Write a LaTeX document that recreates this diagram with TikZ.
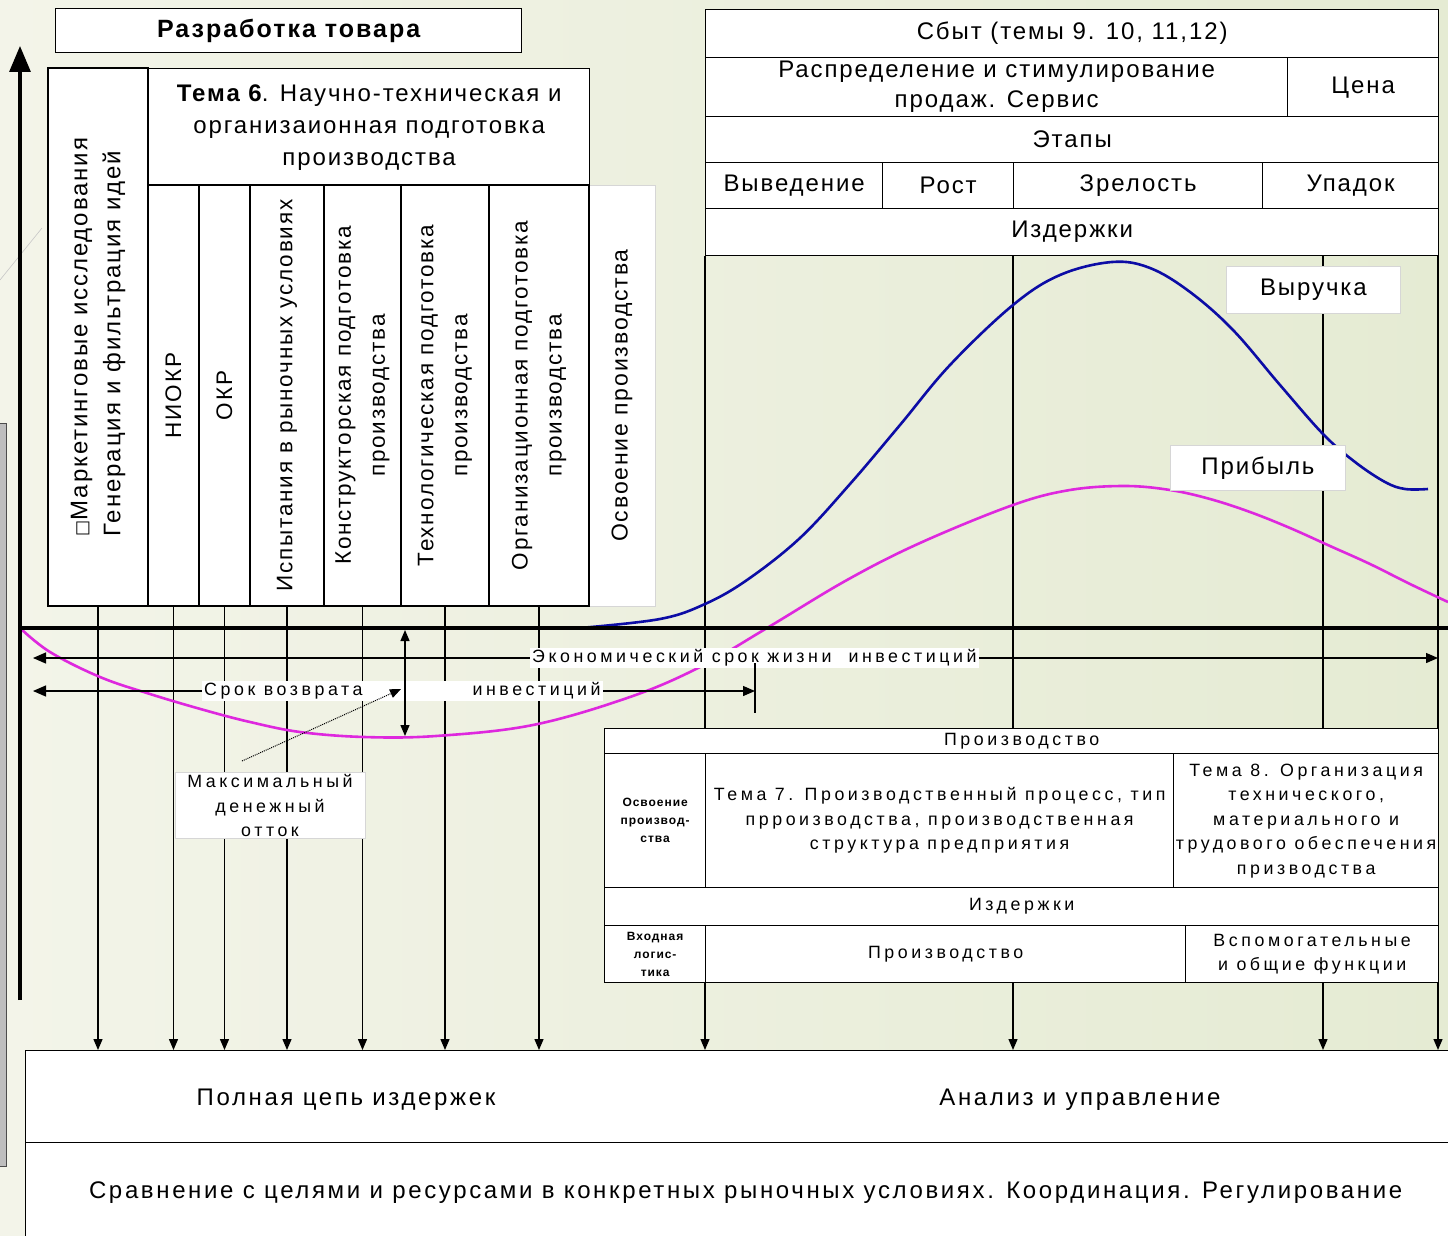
\documentclass[tikz,border=0pt]{standalone}
\usepackage{fontspec}
\setmainfont{Liberation Sans}[LetterSpace=8]
\newfontfamily\widefont{Liberation Sans}[LetterSpace=20]
\newfontfamily\loosefont{Liberation Sans}[LetterSpace=11]
\newfontfamily\symfont{DejaVu Sans}
\usetikzlibrary{arrows.meta,positioning}

\definecolor{bgleft}{RGB}{243,244,233}
\definecolor{bgright}{RGB}{229,235,211}
\definecolor{revenue}{RGB}{12,12,165}
\definecolor{profit}{RGB}{222,40,222}
\definecolor{softline}{RGB}{214,214,214}
\definecolor{barfill}{RGB}{190,190,190}

\tikzset{
  cell/.style={draw, line width=1.3pt, fill=white, inner sep=1pt, align=center, anchor=north west},
  col/.style={draw, line width=1.3pt, fill=white, inner sep=1pt, align=center, rotate=90},
  tag/.style={draw=softline, line width=0.8pt, fill=white, inner sep=2pt, align=center},
  big/.style={font=\fontsize{24}{32}\selectfont},
  loose/.style={font=\loosefont\fontsize{24}{32}\selectfont},
  small/.style={font=\widefont\fontsize{17.8}{24.5}\selectfont},
  tiny/.style={font=\fontsize{12}{18}\selectfont\bfseries},
  tip/.style={-{Triangle[length=11pt,width=9pt]}},
  twotips/.style={{Triangle[length=13pt,width=11pt]}-{Triangle[length=12pt,width=10pt]}},
  curve/.style={line width=2.6pt, line join=round}
}

\begin{document}
\begin{tikzpicture}[x=1pt,y=-1pt,big]

\clip (0,0) rectangle (1448,1236);
\shade[left color=bgleft, right color=bgright] (0,0) rectangle (1448,1236);

% side bar and thin stroke in the corner
\draw[gray!45, line width=0.6pt] (0,280) -- (42,228);
\draw[fill=barfill, draw=black!70, line width=1pt] (-3,423) rectangle (6,1166);

% product development
\node[cell, minimum width=466pt, minimum height=44pt, font=\fontsize{25}{32}\selectfont\bfseries] (dev) at (55,8) {Разработка товара};

\node[col, align=left, minimum width=538pt, minimum height=100pt, font=\fontsize{24}{33}\selectfont] (k1) at (98,337)
  {{\symfont\fontsize{17}{17}\selectfont □}Маркетинговые исследования\\Генерация и фильтрация идей};
\node[cell, minimum width=441pt, minimum height=117pt] (t6) at (148,68)
  {\textbf{Тема 6}. Научно-техническая и\\организаионная подготовка\\производства};

\node[tag, rotate=90, minimum width=421pt, minimum height=66pt, font=\fontsize{23}{32}\selectfont] (k8) at (622,395.5) {Освоение производства};
\foreach \n/\xa/\xb/\txt in {2/148/199/{НИОКР}, 3/199/250/{ОКР},
    4/250/324/{Испытания в рыночных условиях},
    5/324/401/{Конструкторская подготовка\\производства},
    6/401/489/{Технологическая подготовка\\производства},
    7/489/589/{Организационная подготовка\\производства}}
  \node[col, minimum width=421pt, minimum height={(\xb-\xa)*1pt}, font=\fontsize{22.5}{34}\selectfont] (k\n) at ({(\xa+\xb)/2},395.5) {\txt};

% sales
\node[cell, minimum width=733pt, minimum height=48pt] (sale) at (705,9) {Сбыт (темы 9. 10, 11,12)};
\node[cell, minimum width=582pt, minimum height=59pt, font=\fontsize{24}{30}\selectfont] (distr) at (705,57) {Распределение и стимулирование\\продаж. Сервис};
\node[cell, minimum width=151pt, minimum height=59pt] (price) at (1287,57) {Цена};
\node[cell, minimum width=733pt, minimum height=46pt] (stages) at (705,116) {Этапы};
\foreach \n/\xa/\xb/\txt in {1/705/882/Выведение, 2/882/1013/Рост, 3/1013/1262/Зрелость, 4/1262/1438/Упадок}
  \node[cell, minimum width={(\xb-\xa)*1pt}, minimum height=46pt] (st\n) at (\xa,162) {\txt};
\node[cell, minimum width=733pt, minimum height=47pt] (cost) at (705,208) {Издержки};

% production
\node[cell, small, minimum width=834pt, minimum height=25pt] (prod) at (604,728) {Производство};
\node[cell, tiny, minimum width=101pt, minimum height=134pt] (mast) at (604,753) {Освоение\\производ-\\ства};
\node[cell, small, minimum width=468pt, minimum height=134pt] (t7) at (705,753)
  {Тема 7. Производственный процесс, тип\\прроизводства, производственная\\структура предприятия};
\node[cell, small, minimum width=265pt, minimum height=134pt] (t8) at (1173,753)
  {Тема 8. Организация\\технического,\\материального и\\трудового обеспечения\\призводства};
\node[cell, small, minimum width=834pt, minimum height=38pt] (pcost) at (604,887) {Издержки};
\node[cell, tiny, minimum width=101pt, minimum height=57pt] (logi) at (604,925) {Входная\\логис-\\тика};
\node[cell, small, minimum width=480pt, minimum height=57pt] (manuf) at (705,925) {Производство};
\node[cell, small, minimum width=253pt, minimum height=57pt] (aux) at (1185,925) {Вспомогательные\\и общие функции};

\foreach \x in {705,1013,1323,1438}
  \draw[line width=1.3pt] (cost.south -| \x,0) -- (prod.north -| \x,0);

% analysis
\node[cell, minimum width=1440pt, minimum height=92pt] (bot) at (25,1050) {};
\node[cell, loose, minimum width=1440pt, minimum height=100pt] (cmp) at (25,1142)
  {Сравнение с целями и ресурсами в конкретных рыночных условиях. Координация. Регулирование};
\node[loose] (full) at (346,1100) {Полная цепь издержек};
\node[loose] (anl) at (1080,1100) {Анализ и управление};

\foreach \n in {1,...,7}
  \draw[tip, line width=1.3pt] (k\n.west) -- (k\n.west |- bot.north);
\foreach \x in {705,1013,1323,1438}
  \draw[tip, line width=1.3pt] (logi.south -| \x,0) -- (bot.north -| \x,0);

% curves
\draw[curve, revenue] plot[smooth, tension=0.6] coordinates {(580,628) (660,619) (705,604) (747,580) (800,538)
  (850,484) (900,425) (950,365) (1013,305) (1060,275) (1112,262) (1150,268) (1190,292) (1233,330)
  (1280,385) (1323,434) (1355,462) (1385,482) (1405,489) (1428,489)};
\draw[curve, profit] plot[smooth, tension=0.6] coordinates {(20,628) (50,652) (100,677) (150,694) (204,710) (250,722)
  (300,732) (364,737) (436,736) (533,725) (630,697) (700,667) (767,628) (847,580) (920,543) (1013,505)
  (1070,490) (1125,486) (1170,490) (1210,499) (1250,512) (1290,528) (1330,546) (1370,564) (1410,584) (1448,602)};

% axes
\coordinate (o) at (20,628);
\coordinate (xend) at (1448,628);
\coordinate (ybot) at (20,1000);
\coordinate (ytop) at (20,46);
\draw[line width=3.2pt] (o) -- (xend);
\draw[line width=3.2pt, -{Triangle[length=26pt,width=21pt]}] (ybot) -- (ytop);

% investment periods
\coordinate (life0) at (33,658);
\coordinate (life1) at (1438,658);
\draw[twotips, line width=1.3pt] (life0) -- (life1);
\node[fill=white, small, inner sep=2pt, anchor=west] (life) at (530,658) {Экономический срок жизни~ инвестиций};

\coordinate (ret0) at (33,691);
\coordinate (ret1) at (755,691);
\draw[twotips, line width=1.3pt] (ret0) -- (ret1);
\node[fill=white, small, inner sep=2pt, anchor=west] (ret) at (202,691) {Срок возврата\hspace{110pt}инвестиций};
\draw[line width=1.3pt] (ret1) ++(0,-28) -- ++(0,50);

\coordinate (mx0) at (405,630);
\coordinate (mx1) at (405,736);
\draw[line width=1.3pt, {Triangle[length=11pt,width=9pt]}-{Triangle[length=11pt,width=9pt]}] (mx0) -- (mx1);
\node[tag, small, minimum width=190pt, anchor=north] (maxout) at (270,772) {Максимальный\\денежный\\отток};
\coordinate (hint0) at (242,761);
\coordinate (hint1) at (401,689);
\draw[densely dotted, line width=1pt, tip] (hint0) -- (hint1);

% curve labels
\node[tag, minimum width=174pt, minimum height=47pt, anchor=north west] (rev) at (1226,266) {Выручка};
\node[tag, minimum width=175pt, minimum height=45pt, anchor=north west] (prf) at (1170,445) {Прибыль};

\end{tikzpicture}
\end{document}
